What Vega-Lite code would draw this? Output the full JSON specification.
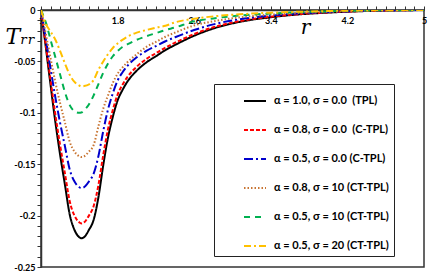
{
"$schema": "https://vega.github.io/schema/vega-lite/v6.json",
"width": 383, "height": 257,
"autosize": "none",
"padding": {"left": 41, "top": 10, "right": 12, "bottom": 11},
"background": "white",
"config": {"view": {"stroke": "#333", "strokeWidth": 1.5}},
"data": {"values": [
{"s":"a","r":1.00,"T":0},{"s":"a","r":1.05,"T":-0.036},{"s":"a","r":1.10,"T":-0.073},{"s":"a","r":1.15,"T":-0.109},{"s":"a","r":1.20,"T":-0.141},{"s":"a","r":1.25,"T":-0.170},{"s":"a","r":1.30,"T":-0.199},{"s":"a","r":1.35,"T":-0.214},{"s":"a","r":1.40,"T":-0.221},{"s":"a","r":1.42,"T":-0.222},{"s":"a","r":1.45,"T":-0.221},{"s":"a","r":1.50,"T":-0.214},{"s":"a","r":1.55,"T":-0.204},{"s":"a","r":1.60,"T":-0.182},{"s":"a","r":1.65,"T":-0.151},{"s":"a","r":1.70,"T":-0.124},{"s":"a","r":1.75,"T":-0.104},{"s":"a","r":1.80,"T":-0.088},{"s":"a","r":1.85,"T":-0.078},{"s":"a","r":1.90,"T":-0.070},{"s":"a","r":2.00,"T":-0.059},{"s":"a","r":2.10,"T":-0.051},{"s":"a","r":2.20,"T":-0.045},{"s":"a","r":2.30,"T":-0.039},{"s":"a","r":2.40,"T":-0.034},{"s":"a","r":2.60,"T":-0.025},{"s":"a","r":2.80,"T":-0.018},{"s":"a","r":3.00,"T":-0.013},{"s":"a","r":3.20,"T":-0.0095},{"s":"a","r":3.40,"T":-0.007},{"s":"a","r":3.60,"T":-0.005},{"s":"a","r":4.00,"T":-0.0025},{"s":"a","r":4.40,"T":-0.001},{"s":"a","r":5.00,"T":0},
{"s":"b","r":1.00,"T":0},{"s":"b","r":1.05,"T":-0.0337},{"s":"b","r":1.10,"T":-0.0683},{"s":"b","r":1.15,"T":-0.1019},{"s":"b","r":1.20,"T":-0.1318},{"s":"b","r":1.25,"T":-0.1590},{"s":"b","r":1.30,"T":-0.1861},{"s":"b","r":1.35,"T":-0.2001},{"s":"b","r":1.40,"T":-0.2066},{"s":"b","r":1.42,"T":-0.2076},{"s":"b","r":1.45,"T":-0.2066},{"s":"b","r":1.50,"T":-0.2001},{"s":"b","r":1.55,"T":-0.1907},{"s":"b","r":1.60,"T":-0.1702},{"s":"b","r":1.65,"T":-0.1412},{"s":"b","r":1.70,"T":-0.1159},{"s":"b","r":1.75,"T":-0.0972},{"s":"b","r":1.80,"T":-0.0823},{"s":"b","r":1.85,"T":-0.0729},{"s":"b","r":1.90,"T":-0.0655},{"s":"b","r":2.00,"T":-0.0552},{"s":"b","r":2.10,"T":-0.0477},{"s":"b","r":2.20,"T":-0.0421},{"s":"b","r":2.30,"T":-0.0365},{"s":"b","r":2.40,"T":-0.0318},{"s":"b","r":2.60,"T":-0.0234},{"s":"b","r":2.80,"T":-0.0168},{"s":"b","r":3.00,"T":-0.0122},{"s":"b","r":3.20,"T":-0.0089},{"s":"b","r":3.40,"T":-0.0065},{"s":"b","r":3.60,"T":-0.0047},{"s":"b","r":4.00,"T":-0.0023},{"s":"b","r":4.40,"T":-0.0009},{"s":"b","r":5.00,"T":0},
{"s":"c","r":1.00,"T":0},{"s":"c","r":1.05,"T":-0.0281},{"s":"c","r":1.10,"T":-0.0569},{"s":"c","r":1.15,"T":-0.0850},{"s":"c","r":1.20,"T":-0.1100},{"s":"c","r":1.25,"T":-0.1326},{"s":"c","r":1.30,"T":-0.1552},{"s":"c","r":1.35,"T":-0.1669},{"s":"c","r":1.40,"T":-0.1724},{"s":"c","r":1.42,"T":-0.1732},{"s":"c","r":1.45,"T":-0.1724},{"s":"c","r":1.50,"T":-0.1669},{"s":"c","r":1.55,"T":-0.1591},{"s":"c","r":1.60,"T":-0.1420},{"s":"c","r":1.65,"T":-0.1178},{"s":"c","r":1.70,"T":-0.0967},{"s":"c","r":1.75,"T":-0.0811},{"s":"c","r":1.80,"T":-0.0686},{"s":"c","r":1.85,"T":-0.0608},{"s":"c","r":1.90,"T":-0.0546},{"s":"c","r":2.00,"T":-0.0460},{"s":"c","r":2.10,"T":-0.0398},{"s":"c","r":2.20,"T":-0.0351},{"s":"c","r":2.30,"T":-0.0304},{"s":"c","r":2.40,"T":-0.0265},{"s":"c","r":2.60,"T":-0.0195},{"s":"c","r":2.80,"T":-0.0140},{"s":"c","r":3.00,"T":-0.0101},{"s":"c","r":3.20,"T":-0.0074},{"s":"c","r":3.40,"T":-0.0055},{"s":"c","r":3.60,"T":-0.0039},{"s":"c","r":4.00,"T":-0.0020},{"s":"c","r":4.40,"T":-0.0008},{"s":"c","r":5.00,"T":0},
{"s":"d","r":1.00,"T":0},{"s":"d","r":1.05,"T":-0.0232},{"s":"d","r":1.10,"T":-0.0470},{"s":"d","r":1.15,"T":-0.0702},{"s":"d","r":1.20,"T":-0.0908},{"s":"d","r":1.25,"T":-0.1095},{"s":"d","r":1.30,"T":-0.1282},{"s":"d","r":1.35,"T":-0.1378},{"s":"d","r":1.40,"T":-0.1423},{"s":"d","r":1.42,"T":-0.1430},{"s":"d","r":1.45,"T":-0.1423},{"s":"d","r":1.50,"T":-0.1378},{"s":"d","r":1.55,"T":-0.1314},{"s":"d","r":1.60,"T":-0.1130},{"s":"d","r":1.65,"T":-0.0960},{"s":"d","r":1.70,"T":-0.0830},{"s":"d","r":1.75,"T":-0.0710},{"s":"d","r":1.80,"T":-0.0620},{"s":"d","r":1.85,"T":-0.0560},{"s":"d","r":1.90,"T":-0.0510},{"s":"d","r":2.00,"T":-0.0430},{"s":"d","r":2.10,"T":-0.0360},{"s":"d","r":2.20,"T":-0.0310},{"s":"d","r":2.30,"T":-0.0260},{"s":"d","r":2.40,"T":-0.0220},{"s":"d","r":2.60,"T":-0.0150},{"s":"d","r":2.80,"T":-0.0110},{"s":"d","r":3.00,"T":-0.0080},{"s":"d","r":3.20,"T":-0.0060},{"s":"d","r":3.40,"T":-0.0045},{"s":"d","r":3.60,"T":-0.0033},{"s":"d","r":4.00,"T":-0.0017},{"s":"d","r":4.40,"T":-0.0007},{"s":"d","r":5.00,"T":0},
{"s":"e","r":1.00,"T":0},{"s":"e","r":1.05,"T":-0.012},{"s":"e","r":1.10,"T":-0.029},{"s":"e","r":1.15,"T":-0.046},{"s":"e","r":1.20,"T":-0.063},{"s":"e","r":1.25,"T":-0.080},{"s":"e","r":1.30,"T":-0.0925},{"s":"e","r":1.35,"T":-0.0985},{"s":"e","r":1.40,"T":-0.1000},{"s":"e","r":1.42,"T":-0.0998},{"s":"e","r":1.45,"T":-0.0975},{"s":"e","r":1.50,"T":-0.0920},{"s":"e","r":1.55,"T":-0.0830},{"s":"e","r":1.60,"T":-0.0720},{"s":"e","r":1.65,"T":-0.0610},{"s":"e","r":1.70,"T":-0.0520},{"s":"e","r":1.75,"T":-0.0450},{"s":"e","r":1.80,"T":-0.0400},{"s":"e","r":1.85,"T":-0.0360},{"s":"e","r":1.90,"T":-0.0335},{"s":"e","r":2.00,"T":-0.0290},{"s":"e","r":2.10,"T":-0.0255},{"s":"e","r":2.20,"T":-0.0225},{"s":"e","r":2.30,"T":-0.0195},{"s":"e","r":2.40,"T":-0.0170},{"s":"e","r":2.60,"T":-0.0110},{"s":"e","r":2.80,"T":-0.0082},{"s":"e","r":3.00,"T":-0.0060},{"s":"e","r":3.20,"T":-0.0045},{"s":"e","r":3.40,"T":-0.0034},{"s":"e","r":3.60,"T":-0.0025},{"s":"e","r":4.00,"T":-0.0013},{"s":"e","r":4.40,"T":-0.0005},{"s":"e","r":5.00,"T":0},
{"s":"f","r":1.00,"T":0},{"s":"f","r":1.05,"T":-0.0135},{"s":"f","r":1.10,"T":-0.021},{"s":"f","r":1.15,"T":-0.029},{"s":"f","r":1.20,"T":-0.040},{"s":"f","r":1.25,"T":-0.052},{"s":"f","r":1.30,"T":-0.063},{"s":"f","r":1.35,"T":-0.070},{"s":"f","r":1.40,"T":-0.0735},{"s":"f","r":1.42,"T":-0.0742},{"s":"f","r":1.45,"T":-0.0740},{"s":"f","r":1.50,"T":-0.0725},{"s":"f","r":1.55,"T":-0.0680},{"s":"f","r":1.60,"T":-0.0580},{"s":"f","r":1.65,"T":-0.0500},{"s":"f","r":1.70,"T":-0.0430},{"s":"f","r":1.75,"T":-0.0370},{"s":"f","r":1.80,"T":-0.0325},{"s":"f","r":1.85,"T":-0.0290},{"s":"f","r":1.90,"T":-0.0260},{"s":"f","r":2.00,"T":-0.0220},{"s":"f","r":2.10,"T":-0.0195},{"s":"f","r":2.20,"T":-0.0172},{"s":"f","r":2.30,"T":-0.0153},{"s":"f","r":2.40,"T":-0.0120},{"s":"f","r":2.60,"T":-0.0085},{"s":"f","r":2.80,"T":-0.0062},{"s":"f","r":3.00,"T":-0.0046},{"s":"f","r":3.20,"T":-0.0035},{"s":"f","r":3.40,"T":-0.0026},{"s":"f","r":3.60,"T":-0.0020},{"s":"f","r":4.00,"T":-0.0010},{"s":"f","r":4.40,"T":-0.0004},{"s":"f","r":5.00,"T":0}
]},
"mark": {"type": "line", "strokeWidth": 2, "clip": true, "interpolate": "monotone"},
"encoding": {
  "x": {"field": "r", "type": "quantitative",
    "scale": {"domain": [1, 5], "nice": false, "zero": false},
    "axis": {"orient": "top",
      "values": [1,1.1,1.2,1.3,1.4,1.5,1.6,1.7,1.8,1.9,2,2.1,2.2,2.3,2.4,2.5,2.6,2.7,2.8,2.9,3,3.1,3.2,3.3,3.4,3.5,3.6,3.7,3.8,3.9,4,4.1,4.2,4.3,4.4,4.5,4.6,4.7,4.8,4.9,5],
      "labelExpr": "indexof([1,1.8,2.6,3.4,4.2,5], datum.value) >= 0 ? '' + datum.value : ''",
      "tickSize": 4,
      "labelPadding": -19,
      "labelFont": "Lato", "labelFontWeight": "bold", "labelFontSize": 9, "labelColor": "black",
      "labelFlush": false, "labelOverlap": false,
      "grid": false, "domainColor": "#333", "domainWidth": 1.5, "tickColor": "#333",
      "title": "r", "titleFont": "DejaVu Serif", "titleFontStyle": "italic", "titleFontWeight": "normal",
      "titleFontSize": 20, "titleColor": "black", "titleX": 264, "titleY": 17, "titleBaseline": "middle", "titleAlign": "center"}},
  "y": {"field": "T", "type": "quantitative",
    "scale": {"domain": [-0.25, 0], "nice": false},
    "axis": {
      "values": [0,-0.01,-0.02,-0.03,-0.04,-0.05,-0.06,-0.07,-0.08,-0.09,-0.1,-0.11,-0.12,-0.13,-0.14,-0.15,-0.16,-0.17,-0.18,-0.19,-0.2,-0.21,-0.22,-0.23,-0.24,-0.25],
      "labelExpr": "indexof([0,-0.05,-0.1,-0.15,-0.2,-0.25], datum.value) >= 0 ? '' + datum.value : ''",
      "tickSize": 4,
      "labelPadding": 2,
      "labelFont": "Lato", "labelFontWeight": "bold", "labelFontSize": 9, "labelColor": "black",
      "labelFlush": false, "labelOverlap": false,
      "grid": false, "domainColor": "#333", "domainWidth": 1.5, "tickColor": "#333",
      "title": "Tᵣᵣ", "titleFont": "DejaVu Serif", "titleFontStyle": "italic", "titleFontWeight": "normal",
      "titleFontSize": 22, "titleColor": "black", "titleAngle": 0, "titleX": -21, "titleY": 26, "titleBaseline": "middle", "titleAlign": "center"}},
  "color": {"field": "s", "type": "nominal",
    "scale": {"domain": ["a","b","c","d","e","f"], "range": ["#000000","#ff0000","#0000cc","#c87533","#00b050","#ffc000"]},
    "legend": {"orient": "none", "legendX": 173, "legendY": 74, "title": null,
      "strokeColor": "#222", "fillColor": "white", "padding": 5,
      "symbolType": "stroke", "symbolSize": 484, "symbolStrokeWidth": 2, "symbolOffset": 24,
      "labelOffset": 7, "labelFont": "Lato", "labelFontWeight": "bold", "labelFontSize": 11, "labelColor": "black",
      "rowPadding": 12, "labelLimit": 300,
      "labelExpr": "{'a':'α = 1.0, σ = 0.0 \u00a0(TPL)','b':'α = 0.8, σ = 0.0 \u00a0(C-TPL)','c':'α = 0.5, σ = 0.0 (C-TPL)','d':'α = 0.8, σ = 10 (CT-TPL)','e':'α = 0.5, σ = 10 (CT-TPL)','f':'α = 0.5, σ = 20 (CT-TPL)'}[datum.label]"}},
  "strokeDash": {"field": "s", "type": "nominal",
    "scale": {"domain": ["a","b","c","d","e","f"], "range": [[1,0],[4,2],[9,3,2,3],[1.5,2],[6,5],[7,3,2,3]]},
    "legend": {"orient": "none", "legendX": 173, "legendY": 74, "title": null,
      "strokeColor": "#222", "fillColor": "white", "padding": 5,
      "symbolType": "stroke", "symbolSize": 484, "symbolStrokeWidth": 2, "symbolOffset": 24,
      "labelOffset": 7, "labelFont": "Lato", "labelFontWeight": "bold", "labelFontSize": 11, "labelColor": "black",
      "rowPadding": 12, "labelLimit": 300,
      "labelExpr": "{'a':'α = 1.0, σ = 0.0 \u00a0(TPL)','b':'α = 0.8, σ = 0.0 \u00a0(C-TPL)','c':'α = 0.5, σ = 0.0 (C-TPL)','d':'α = 0.8, σ = 10 (CT-TPL)','e':'α = 0.5, σ = 10 (CT-TPL)','f':'α = 0.5, σ = 20 (CT-TPL)'}[datum.label]"}}
}
}
